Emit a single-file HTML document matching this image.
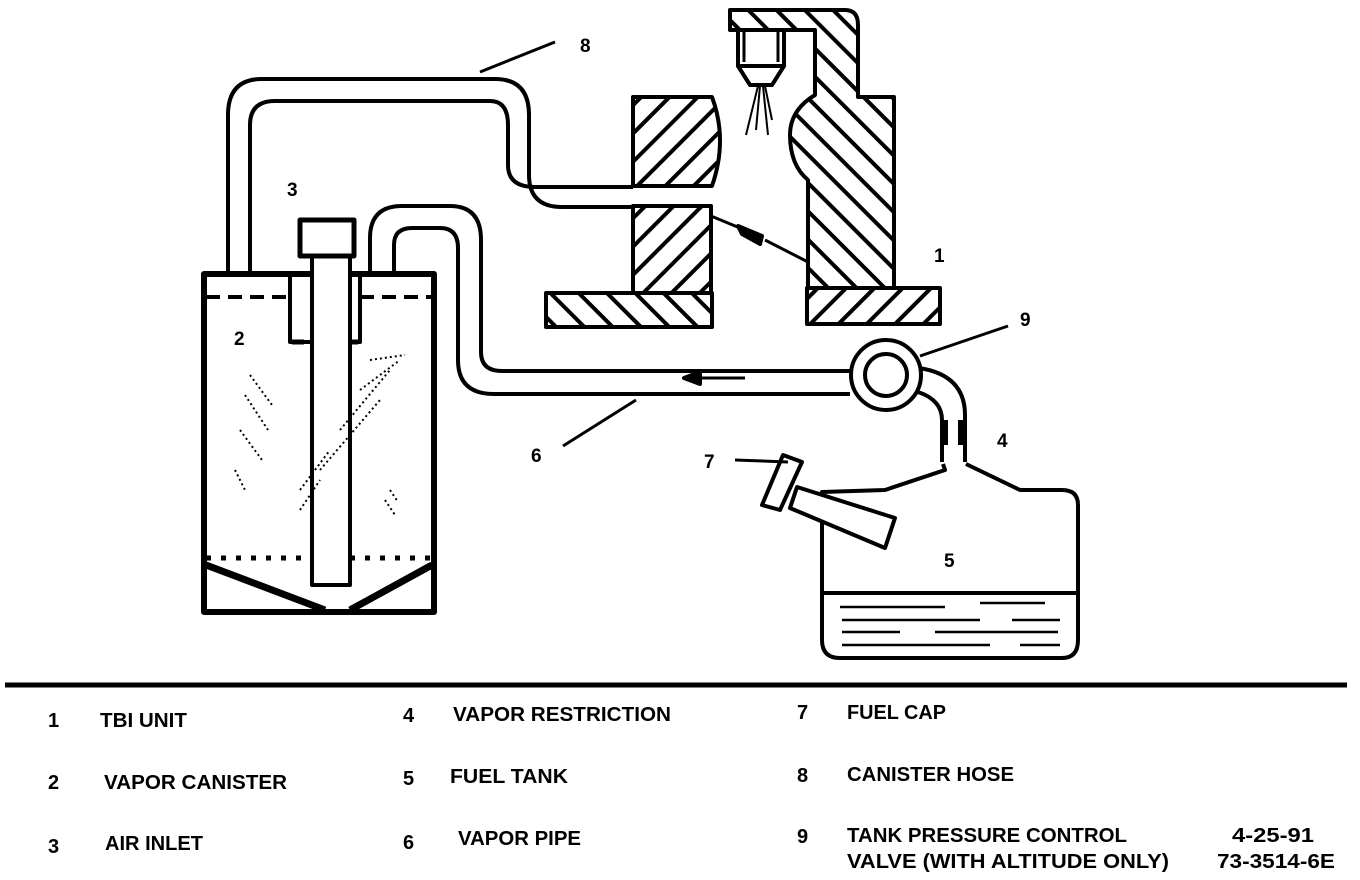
<!DOCTYPE html>
<html><head><meta charset="utf-8"><style>
html,body{margin:0;padding:0;background:#fff;}
svg{display:block}
text{font-family:"Liberation Sans",sans-serif;font-weight:bold;fill:#000;}
</style></head><body>
<svg width="1360" height="880" viewBox="0 0 1360 880" xmlns="http://www.w3.org/2000/svg">
<defs>
<pattern id="h1" patternUnits="userSpaceOnUse" width="20" height="20" patternTransform="rotate(45)">
<rect width="20" height="20" fill="#fff"/><rect x="0" y="0" width="4" height="20" fill="#000"/></pattern>
<pattern id="h2" patternUnits="userSpaceOnUse" width="20" height="20" patternTransform="rotate(-45)">
<rect width="20" height="20" fill="#fff"/><rect x="0" y="0" width="4" height="20" fill="#000"/></pattern>
</defs>
<g fill="none" stroke="#000" stroke-width="4" stroke-linejoin="round">
<path d="M228 272 V115 Q228 79 262 79 H495 Q529 79 529 115 V175 Q529 207 562 207 H633"/>
<path d="M250 272 V125 Q250 101 275 101 H490 Q508 101 508 125 V165 Q508 187 535 187 H633"/>
<path d="M633 97 H712 Q728 140 712 186 H633 Z" fill="url(#h1)"/>
<rect x="633" y="206" width="78" height="87" fill="url(#h1)"/>
<rect x="546" y="293" width="166" height="34" fill="url(#h2)"/>
<path d="M730 10 H845 Q858 10 858 25 V97 H894 V288 H808 V180 Q790 165 790 135 Q790 110 815 95 V30 H786 V30 H730 Z" fill="url(#h2)"/>
<rect x="807" y="288" width="133" height="36" fill="url(#h1)"/>
<rect x="738" y="30" width="46" height="36" fill="#fff"/>
<path d="M744 32 V62 M778 32 V62" stroke-width="3"/>
<path d="M738 66 H784 L772 85 H750 Z" fill="#fff"/>
<path d="M758 86 L746 135 M760 86 L756 130 M763 86 L768 135 M765 86 L772 120" stroke-width="2"/>
<path d="M711 216 L740 228 M765 240 L808 262" stroke-width="3"/>
<path d="M738 226 L762 236 L760 244 L742 234 Z" fill="#000"/>
<rect x="204" y="274" width="230" height="338" stroke-width="6"/>
<path d="M206 297 H290 M360 297 H432" stroke-dasharray="14 8"/>
<path d="M290 275 V342 H360 V275"/>
<path d="M292 342 H358" stroke-dasharray="12 6" stroke-width="5"/>
<rect x="312" y="255" width="38" height="330" fill="#fff"/>
<rect x="300" y="220" width="54" height="36" fill="#fff" stroke-width="5"/>
<path d="M206 558 H312 M350 558 H432" stroke-dasharray="5 10" stroke-width="5"/>
<path d="M206 565 L325 610 M432 565 L350 610" stroke-width="7"/>
<path d="M250 375 L272 405 M245 395 L268 430 M240 430 L262 460 M235 470 L245 490 M370 360 L405 355 M360 390 L400 360 M340 430 L390 370 M320 470 L380 400 M300 490 L330 450 M300 510 L320 480 M390 490 L398 502 M385 500 L395 515" stroke-width="2" stroke-dasharray="2 3"/>
<!-- vapor pipe 6 -->
<path d="M370 272 V238 Q370 206 402 206 H450 Q481 206 481 240 V352 Q481 371 502 371 H850"/>
<path d="M394 272 V245 Q394 228 412 228 H440 Q458 228 458 248 V360 Q458 394 494 394 H850"/>
<path d="M745 378 H690" stroke-width="3"/>
<path d="M684 378 L700 372 L700 384 Z" fill="#000"/>
<circle cx="886" cy="375" r="35" fill="#fff"/>
<circle cx="886" cy="375" r="21"/>
<path d="M919 368 Q965 375 965 415 V462 M918 392 Q942 400 942 420 V462"/>
<rect x="940" y="420" width="8" height="25" fill="#000" stroke="none"/>
<rect x="958" y="420" width="8" height="25" fill="#000" stroke="none"/>
<path d="M943 464 L945 470 L885 490 L822 492 V640 Q822 658 840 658 H1062 Q1078 658 1078 640 V505 Q1078 490 1062 490 H1020 L966 464"/>
<path d="M822 593 H1078"/>
<path d="M840 607 H945 M980 603 H1045 M842 620 H980 M1012 620 H1060 M842 632 H900 M935 632 H1058 M842 645 H990 M1020 645 H1060" stroke-width="2.5"/>
<path d="M797 487 L895 518 L885 548 L790 508 Z" fill="#fff"/>
<path d="M783 455 L802 462 L780 510 L762 505 Z" fill="#fff"/>
<path d="M480 72 L555 42 M563 446 L636 400 M735 460 L788 462 M920 356 L1008 326" stroke-width="3"/>
<path d="M5 685 H1347" stroke-width="5"/>
</g>
<g font-size="19">
<text x="580" y="52">8</text>
<text x="287" y="196">3</text>
<text x="234" y="345">2</text>
<text x="934" y="262">1</text>
<text x="1020" y="326">9</text>
<text x="997" y="447">4</text>
<text x="944" y="567">5</text>
<text x="531" y="462">6</text>
<text x="704" y="468">7</text>
</g>
<g font-size="20">
<text x="48" y="727">1</text><text x="100" y="727" textLength="87" lengthAdjust="spacingAndGlyphs">TBI UNIT</text>
<text x="48" y="789">2</text><text x="104" y="789" textLength="183" lengthAdjust="spacingAndGlyphs">VAPOR CANISTER</text>
<text x="48" y="853">3</text><text x="105" y="850" textLength="98" lengthAdjust="spacingAndGlyphs">AIR INLET</text>
<text x="403" y="722">4</text><text x="453" y="721" textLength="218" lengthAdjust="spacingAndGlyphs">VAPOR RESTRICTION</text>
<text x="403" y="785">5</text><text x="450" y="783" textLength="118" lengthAdjust="spacingAndGlyphs">FUEL TANK</text>
<text x="403" y="849">6</text><text x="458" y="845" textLength="123" lengthAdjust="spacingAndGlyphs">VAPOR PIPE</text>
<text x="797" y="719">7</text><text x="847" y="719" textLength="99" lengthAdjust="spacingAndGlyphs">FUEL CAP</text>
<text x="797" y="782">8</text><text x="847" y="781" textLength="167" lengthAdjust="spacingAndGlyphs">CANISTER HOSE</text>
<text x="797" y="843">9</text><text x="847" y="842" textLength="280" lengthAdjust="spacingAndGlyphs">TANK PRESSURE CONTROL</text>
<text x="847" y="868" textLength="322" lengthAdjust="spacingAndGlyphs">VALVE (WITH ALTITUDE ONLY)</text>
<text x="1232" y="842" textLength="82" lengthAdjust="spacingAndGlyphs">4-25-91</text>
<text x="1217" y="868" textLength="118" lengthAdjust="spacingAndGlyphs">73-3514-6E</text>
</g>
</svg>
</body></html>
